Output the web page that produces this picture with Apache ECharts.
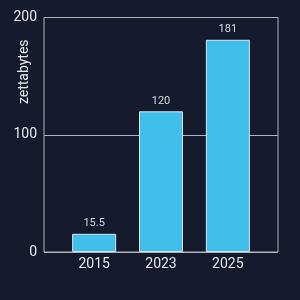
<!DOCTYPE html>
<html><head><meta charset="utf-8">
<script src="https://cdn.jsdelivr.net/npm/echarts@6/dist/echarts.min.js"></script>
<style>html,body{margin:0;padding:0;background:#151a2d;}#c{width:300px;height:300px;}</style>
</head><body><div id="c"></div>
<script>
const categories = ['2015', '2023', '2025'];
const values = [15.5, 120, 181];
const yTicks = [0, 100, 200];

const chart = echarts.init(document.getElementById('c'), null, {renderer: 'canvas'});
const pos = categories.map((_, i) => i);
chart.setOption({
  backgroundColor: '#151a2d',
  animation: false,
  grid: {left: 44, right: 22, top: 17.5, bottom: 48, show: true, borderColor: '#b4b4b8', borderWidth: 1, outerBoundsMode: 'none', containLabel: false},
  xAxis: {
    type: 'value', min: -0.75, max: 2.75,
    axisLine: {show: false}, axisTick: {show: false}, splitLine: {show: false},
    axisLabel: {customValues: pos, formatter: v => categories[Math.round(v)] || '', color: '#e8e8ec', fontSize: 14, fontFamily: 'Roboto', margin: 5}
  },
  yAxis: {
    type: 'value', min: yTicks[0], max: yTicks[yTicks.length - 1], interval: 100,
    name: 'zettabytes', nameLocation: 'middle', nameGap: 13, nameRotate: 90, nameMoveOverlap: false,
    nameTextStyle: {color: '#e8e8ec', fontSize: 14, fontFamily: 'Roboto', padding: [0, 0, 0, 126]},
    axisLine: {show: false}, axisTick: {show: false},
    splitLine: {show: true, lineStyle: {color: '#b4b4b8', width: 1}},
    axisLabel: {color: '#e8e8ec', fontSize: 14, fontFamily: 'Roboto', margin: 7}
  },
  series: [{
    type: 'bar',
    data: values.map((v, i) => [i, v]),
    barWidth: 44,
    itemStyle: {color: '#41bfec', borderColor: '#d8e4ec', borderWidth: 1},
    label: {show: true, position: 'top', distance: 5, color: '#d8d8dc', fontSize: 11, fontFamily: 'Roboto', formatter: p => String(p.value[1])}
  }]
});
</script></body></html>
